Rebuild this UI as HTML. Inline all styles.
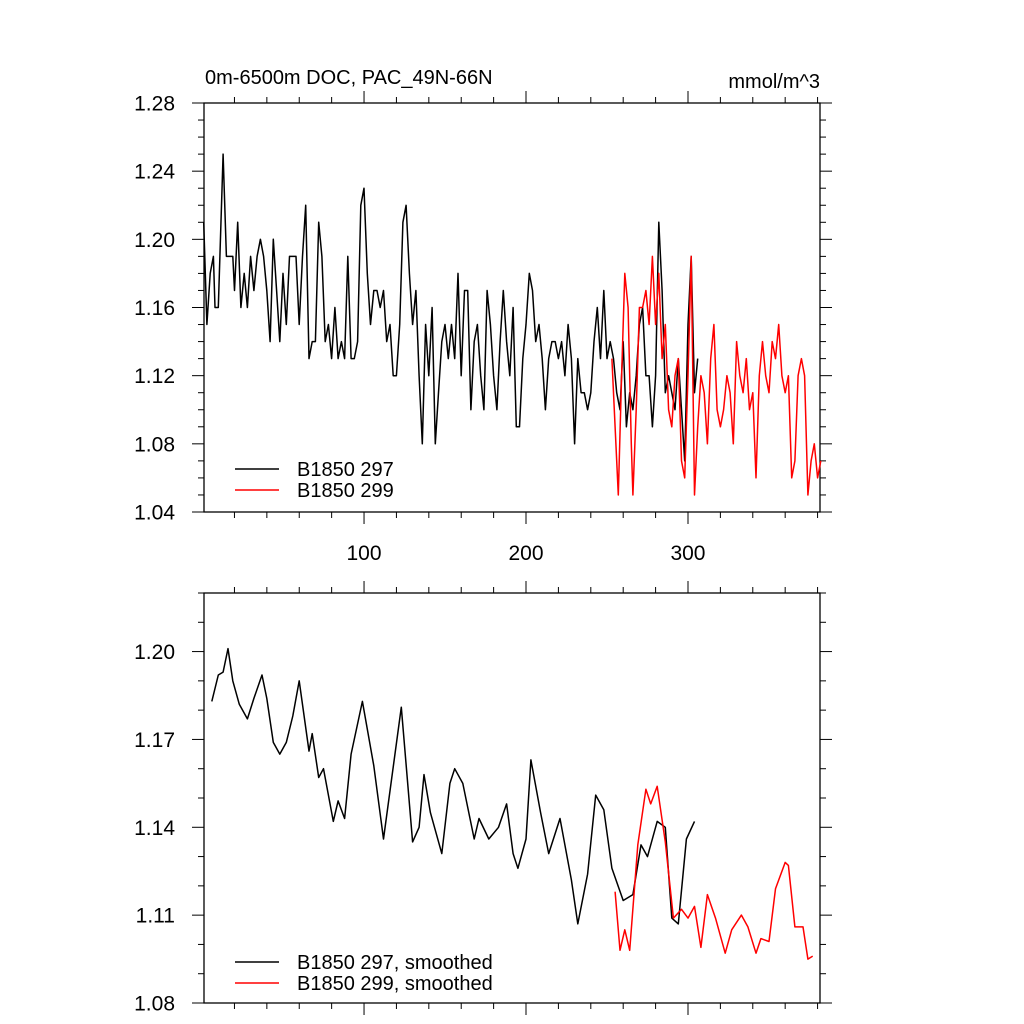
<!DOCTYPE html>
<html><head><meta charset="utf-8"><style>
html,body{margin:0;padding:0;background:#fff;width:1024px;height:1024px;overflow:hidden}
svg{display:block;font-family:"Liberation Sans",sans-serif}
</style></head><body>
<svg id="chart" width="1024" height="1024" viewBox="0 0 1024 1024"></svg>
<script>
const topBlackX=[1,3,5,7,8,10,12,13,15,17,19,20,22,24,26,28,30,32,34,36,38,40,42,44,46,48,50,52,54,56,58,60,62,64,66,68,70,72,74,76,78,80,82,84,86,88,90,92,94,96,98,100,102,104,106,108,110,112,114,116,118,120,122,124,126,128,130,132,134,136,138,140,142,144,146,148,150,152,154,156,158,160,162,164,166,168,170,172,174,176,178,180,182,184,186,188,190,192,194,196,198,200,202,204,206,208,210,212,214,216,218,220,222,224,226,228,230,232,234,236,238,240,242,244,246,248,250,252,254,256,258,260,262,264,266,268,270,272,274,276,278,280,282,284,286,288,290,292,294,296,298,300,302,304,306];
const topBlackY=[1.21,1.15,1.18,1.19,1.16,1.16,1.22,1.25,1.19,1.19,1.19,1.17,1.21,1.16,1.18,1.16,1.19,1.17,1.19,1.20,1.19,1.17,1.14,1.20,1.17,1.14,1.18,1.15,1.19,1.19,1.19,1.15,1.19,1.22,1.13,1.14,1.14,1.21,1.19,1.14,1.15,1.13,1.16,1.13,1.14,1.13,1.19,1.13,1.13,1.14,1.22,1.23,1.18,1.15,1.17,1.17,1.16,1.17,1.14,1.15,1.12,1.12,1.15,1.21,1.22,1.18,1.15,1.17,1.12,1.08,1.15,1.12,1.16,1.08,1.11,1.14,1.15,1.13,1.15,1.13,1.18,1.12,1.17,1.17,1.10,1.14,1.15,1.12,1.10,1.17,1.15,1.12,1.10,1.14,1.17,1.14,1.12,1.16,1.09,1.09,1.13,1.15,1.18,1.17,1.14,1.15,1.13,1.10,1.13,1.14,1.14,1.13,1.14,1.12,1.15,1.13,1.08,1.13,1.11,1.11,1.10,1.11,1.14,1.16,1.13,1.17,1.13,1.14,1.13,1.11,1.10,1.14,1.09,1.11,1.10,1.12,1.15,1.16,1.12,1.12,1.09,1.12,1.21,1.17,1.11,1.12,1.11,1.10,1.13,1.10,1.07,1.15,1.19,1.11,1.13];
const topRedX=[253,255,257,259,261,263,265,266,268,270,272,274,276,278,280,282,284,286,288,290,292,294,296,298,300,302,304,306,308,310,312,314,316,318,320,322,324,326,328,330,332,334,336,338,340,342,344,346,348,350,352,354,356,358,360,362,364,366,368,370,372,374,376,378,380,382];
const topRedY=[1.13,1.09,1.05,1.12,1.18,1.16,1.08,1.05,1.10,1.16,1.16,1.17,1.15,1.19,1.15,1.18,1.13,1.15,1.10,1.09,1.12,1.13,1.07,1.06,1.12,1.19,1.05,1.09,1.12,1.11,1.08,1.13,1.15,1.10,1.09,1.10,1.12,1.11,1.08,1.14,1.12,1.11,1.13,1.10,1.11,1.06,1.12,1.14,1.12,1.11,1.14,1.13,1.15,1.12,1.11,1.12,1.06,1.07,1.12,1.13,1.12,1.05,1.07,1.08,1.06,1.07];
const botBlackX=[6,10,13,16,19,23,28,32,37,40,44,48,52,56,60,66,68,72,75,81,84,88,92,99,106,112,123,130,134,137,141,148,153,156,161,168,171,177,183,188,192,195,200,203,209,214,221,228,232,238,243,248,253,260,266,271,275,281,286,290,294,299,304];
const botBlackY=[1.183,1.192,1.193,1.201,1.19,1.182,1.177,1.184,1.192,1.184,1.169,1.165,1.169,1.178,1.19,1.166,1.172,1.157,1.16,1.142,1.149,1.143,1.165,1.183,1.161,1.136,1.181,1.135,1.14,1.158,1.145,1.131,1.155,1.16,1.155,1.136,1.143,1.136,1.14,1.148,1.131,1.126,1.136,1.163,1.145,1.131,1.143,1.122,1.107,1.124,1.151,1.146,1.126,1.115,1.117,1.134,1.13,1.142,1.14,1.109,1.107,1.136,1.142];
const botRedX=[255,258,261,264,269,274,277,281,286,291,296,300,304,308,312,317,323,327,333,337,342,345,350,354,360,362,366,371,374,377];
const botRedY=[1.118,1.098,1.105,1.098,1.134,1.153,1.148,1.154,1.135,1.109,1.112,1.109,1.113,1.099,1.117,1.109,1.097,1.105,1.11,1.106,1.097,1.102,1.101,1.119,1.128,1.127,1.106,1.106,1.095,1.096];
const topYTicks=["1.04","1.08","1.12","1.16","1.20","1.24","1.28"];
const botYTicks=["1.08","1.11","1.14","1.17","1.20"];
const xTicks=["100","200","300"];

const svg=document.getElementById('chart');
const NS='http://www.w3.org/2000/svg';
function mk(tag,attrs,parent){const e=document.createElementNS(NS,tag);for(const k in attrs)e.setAttribute(k,attrs[k]);(parent||svg).appendChild(e);return e;}
const L=204,R=820,xMin=1.2,xMax=381.5;
const sx=v=>L+(v-xMin)/(xMax-xMin)*(R-L);

function panel(name,T,B,yMin,yMax,majorStep,yLabels,showX,series,legend){
  const g=mk('g',{});
  
  
  const sy=v=>B-(v-yMin)/(yMax-yMin)*(B-T);
  const fr=mk('rect',{x:L,y:T,width:R-L,height:B-T,fill:'none',stroke:'#000','stroke-width':1.3},g);
  
  
  for(let v=yMin;v<=yMax+1e-9;v+=0.01){
    const y=sy(v);const maj=Math.abs(Math.round((v-yMin)/majorStep)*majorStep-(v-yMin))<1e-6;
    const len=maj?12:6;
    mk('line',{x1:L-len,y1:y,x2:L,y2:y,stroke:'#000','stroke-width':1},g);
    mk('line',{x1:R,y1:y,x2:R+len,y2:y,stroke:'#000','stroke-width':1},g);
  }
  yLabels.forEach(s=>{const t=mk('text',{x:L-29,y:sy(parseFloat(s))+7.5,'text-anchor':'end','font-size':21},g);t.textContent=s;
    
    });
  for(let v=20;v<=380;v+=20){
    const x=sx(v);const maj=v%100===0;const len=maj?12:6;
    mk('line',{x1:x,y1:B,x2:x,y2:B+len,stroke:'#000','stroke-width':1},g);
    mk('line',{x1:x,y1:T-len,x2:x,y2:T,stroke:'#000','stroke-width':1},g);
  }
  if(showX) xTicks.forEach(s=>{const t=mk('text',{x:sx(+s),y:B+48,'text-anchor':'middle','font-size':21},g);t.textContent=s;
    
    });
  series.forEach(([xs,ys,col,nm])=>{
    const p=mk('polyline',{points:xs.map((x,i)=>sx(x).toFixed(1)+','+sy(ys[i]).toFixed(1)).join(' '),fill:'none',stroke:col,'stroke-width':1.5,'stroke-linejoin':'round'},g);
    
    
  });
  legend.forEach(([y,col,txt])=>{
    const lg=mk('g',{},g);
    
    
    mk('line',{x1:235,y1:y,x2:279,y2:y,stroke:col,'stroke-width':1.5},lg);
    const t=mk('text',{x:297,y:y+7,'font-size':20},lg);t.textContent=txt;
  });
}
panel('top-panel',103,512,1.04,1.28,0.04,topYTicks,true,
  [[topBlackX,topBlackY,'#000','series-b1850-297'],[topRedX,topRedY,'#f00','series-b1850-299']],
  [[469,'#000','B1850 297'],[490,'#f00','B1850 299']]);
panel('bottom-panel',593,1003,1.08,1.22,0.03,botYTicks,false,
  [[botBlackX,botBlackY,'#000','series-b1850-297-smoothed'],[botRedX,botRedY,'#f00','series-b1850-299-smoothed']],
  [[962,'#000','B1850 297, smoothed'],[983,'#f00','B1850 299, smoothed']]);
const t1=mk('text',{x:205,y:84,'font-size':20});t1.textContent='0m-6500m DOC, PAC_49N-66N';


const t2=mk('text',{x:820,y:88,'font-size':20,'text-anchor':'end'});t2.textContent='mmol/m^3';


</script>
</body></html>
